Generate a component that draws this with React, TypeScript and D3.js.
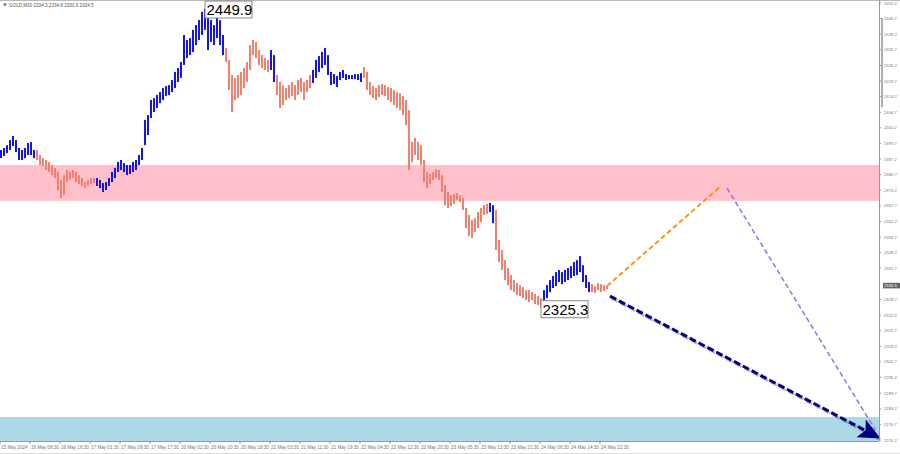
import React from "react";
import * as d3 from "d3";

const title = "GOLD,M30  2334.3 2334.8 2333.6 2334.5";

const highs = [
  2391.0, 2391.8, 2393.0, 2395.1, 2396.8, 2395.1, 2391.8, 2391.0, 2391.8, 2393.9, 2394.3, 2391.0,
  2391.0, 2388.9, 2387.6, 2386.8, 2386.0, 2384.7, 2383.5, 2381.8, 2378.5, 2380.5, 2382.6, 2381.8,
  2382.6, 2381.8, 2380.5, 2379.3, 2377.6, 2378.5, 2379.3, 2379.3,
  2379.3, 2378.5, 2377.2, 2377.6, 2379.3, 2381.8, 2383.5, 2386.0, 2386.8, 2385.5, 2384.7, 2384.7,
  2386.0, 2386.8, 2388.9, 2391.8, 2403.5, 2405.5, 2411.8, 2412.6, 2413.9, 2415.1, 2416.8, 2417.6,
  2418.0, 2420.1, 2423.5, 2425.1, 2427.6, 2438.9, 2436.8, 2437.6, 2441.0, 2443.0, 2445.1, 2448.5,
  2449.9, 2447.2, 2445.1, 2443.0, 2446.8, 2445.1, 2438.9,
  2433.5, 2428.5, 2422.2, 2421.0, 2422.2, 2423.5, 2425.1, 2427.6, 2434.7, 2436.8, 2436.0, 2432.6,
  2430.5, 2429.3, 2428.5,
  2432.6, 2430.5,
  2422.2, 2419.3, 2418.0, 2416.8, 2418.0, 2419.3, 2418.0, 2420.1, 2421.0, 2419.3, 2420.1, 2422.2,
  2424.3, 2428.5, 2430.1, 2431.8, 2433.5, 2430.5, 2423.5, 2422.6, 2421.8, 2423.5, 2424.3, 2422.6,
  2422.2, 2422.2, 2422.6, 2422.6, 2423.0,
  2425.5, 2423.5, 2419.3, 2417.6, 2416.8, 2418.0, 2418.5, 2418.0, 2417.2, 2416.8, 2416.0, 2415.1,
  2414.7, 2413.5, 2411.8, 2407.6, 2394.3, 2396.0, 2394.3, 2393.0, 2386.8, 2381.8, 2381.0, 2381.8,
  2383.0, 2382.6, 2380.5, 2376.4, 2373.5, 2372.2, 2372.6, 2373.0, 2372.2, 2371.0, 2366.8, 2363.9,
  2361.8, 2362.6, 2365.1, 2366.8, 2368.0, 2368.5,
  2368.9, 2368.0,
  2366.0, 2353.5, 2349.3, 2345.1, 2341.8, 2338.9, 2336.8, 2335.5, 2334.7, 2333.9, 2332.6, 2332.6,
  2331.8, 2331.0, 2330.1, 2329.3,
  2332.6, 2334.7, 2336.8, 2338.5, 2340.1, 2341.0, 2340.1, 2341.0, 2341.8, 2342.6, 2344.3, 2345.1,
  2346.8, 2343.0, 2338.9, 2336.0,
  2335.1, 2334.3, 2335.5, 2335.1, 2334.7, 2334.3,
];

const lows = [
  2387.6, 2388.5, 2389.7, 2391.0, 2392.6, 2390.1, 2386.8, 2386.8, 2387.6, 2388.9, 2388.9, 2387.6,
  2386.8, 2384.7, 2384.3, 2382.6, 2381.8, 2380.5, 2379.3, 2374.3, 2371.0, 2372.2, 2377.6, 2378.5,
  2379.3, 2377.6, 2376.8, 2376.0, 2375.1, 2376.0, 2376.8, 2377.2,
  2376.0, 2375.1, 2373.5, 2374.3, 2376.0, 2377.6, 2379.3, 2381.8, 2382.6, 2381.8, 2380.5, 2381.0,
  2381.8, 2382.6, 2384.7, 2386.8, 2393.0, 2397.2, 2404.3, 2406.8, 2408.5, 2410.5, 2411.8, 2413.5,
  2413.9, 2415.1, 2416.8, 2419.3, 2421.0, 2426.4, 2429.3, 2430.5, 2431.8, 2434.7, 2436.8, 2438.9,
  2441.0, 2432.6, 2436.0, 2434.7, 2437.6, 2434.7, 2430.5,
  2427.6, 2416.0, 2406.8, 2411.8, 2412.6, 2413.9, 2416.8, 2419.3, 2424.3, 2430.5, 2429.3, 2426.4,
  2425.1, 2424.3, 2423.5,
  2424.3, 2419.3,
  2413.9, 2408.5, 2409.7, 2411.8, 2412.6, 2413.5, 2411.8, 2413.9, 2415.1, 2411.8, 2415.1, 2416.8,
  2418.9, 2421.0, 2423.5, 2425.1, 2426.4, 2422.2, 2418.0, 2418.5, 2417.2, 2420.1, 2421.0, 2420.1,
  2420.5, 2420.5, 2420.5, 2420.1, 2419.3,
  2421.0, 2416.0, 2413.9, 2412.6, 2411.8, 2413.0, 2413.9, 2413.5, 2411.8, 2411.0, 2409.7, 2408.5,
  2407.6, 2405.5, 2401.4, 2382.6, 2386.0, 2388.9, 2386.8, 2384.7, 2377.6, 2375.1, 2376.8, 2378.5,
  2379.3, 2378.5, 2373.5, 2368.0, 2366.8, 2367.6, 2368.5, 2370.1, 2369.3, 2366.0, 2358.5, 2355.1,
  2354.3, 2356.8, 2358.5, 2361.0, 2363.9, 2364.3,
  2365.1, 2360.5,
  2349.3, 2344.3, 2341.0, 2336.8, 2334.7, 2332.6, 2331.8, 2330.5, 2330.1, 2329.3, 2328.5, 2327.6,
  2328.5, 2326.8, 2326.4, 2325.3,
  2326.8, 2329.3, 2331.8, 2333.5, 2334.3, 2336.0, 2335.1, 2336.0, 2336.8, 2337.6, 2338.5, 2338.9,
  2340.1, 2336.0, 2333.5, 2331.8,
  2331.8, 2331.4, 2332.6, 2331.8, 2332.2, 2333.0,
];

// last bar index of each wave, alternating up / down starting with up
const waveEnds = [11, 31, 74, 89, 91, 103, 120, 162, 164, 180, 196, 202];

const priceTicks = [
  2452.2, 2445.7, 2439.2, 2432.7, 2426.2, 2419.7, 2413.2, 2406.7, 2400.2, 2393.7, 2387.2,
  2380.7, 2374.2, 2367.7, 2361.2, 2354.7, 2348.2, 2341.7, 2328.7, 2322.2, 2315.7, 2309.2,
  2302.7, 2296.2, 2289.7, 2283.2, 2276.7, 2270.2,
];
const currentPrice = 2334.5;

const timeLabels = [
  "15 May 2024", "16 May 08:30", "16 May 16:30", "17 May 01:30", "17 May 09:30", "17 May 17:30",
  "20 May 02:30", "20 May 10:30", "20 May 18:30", "21 May 03:30", "21 May 11:30", "21 May 19:30",
  "22 May 04:30", "22 May 12:30", "22 May 20:30", "23 May 05:30", "23 May 13:30", "23 May 21:30",
  "24 May 06:30", "24 May 14:30", "24 May 22:30",
];
const barsPerLabel = 10;

const resistanceZone = [2369.8, 2384.7];
const supportZone = [2269.5, 2279.8];

const extremes = [
  { index: 68, price: 2449.9, kind: "high" },
  { index: 180, price: 2325.3, kind: "low" },
];

const orangeProjection = [[202, 2334.3], [240, 2376.0]];
const purpleProjection = [[242, 2375.1], [291.5, 2274.3]];
const navyProjection = [[203, 2330.1], [292.3, 2271.4]];

const W = 900;
const H = 454;
const plotRight = 879;
const plotBottom = 441;

export default function App() {
  const x = d3.scaleLinear().domain([0, 292.33]).range([1, 878]);
  const y = d3.scaleLinear().domain([2270.2, 2452.2]).range([440, 3]);

  const colorOf = (i: number) => {
    const seg = waveEnds.findIndex((e) => i <= e);
    return seg % 2 === 0 ? "#1414ee" : "#f47f6c";
  };

  const line = d3.line<number[]>().x((d) => x(d[0])).y((d) => y(d[1]));

  const font = "'Liberation Sans', Arial, sans-serif";

  return (
    <svg
      width={W}
      height={H}
      style={{ position: "fixed", left: 0, top: 0, background: "#fff" }}
      fontFamily={font}
    >
      <defs>
        <marker
          id="arrowNavy"
          markerUnits="userSpaceOnUse"
          markerWidth={24}
          markerHeight={20}
          refX={19}
          refY={10}
          orient="auto"
        >
          <path d="M0,0 L22,10 L0,20 L5,10 Z" fill="#000080" />
        </marker>
      </defs>
      {/* frame */}
      <line x1={0} x2={W} y1={0.5} y2={0.5} stroke="#bbb" />
      {/* zones */}
      <rect x={0} width={plotRight} y={y(resistanceZone[1])} height={y(resistanceZone[0]) - y(resistanceZone[1])} fill="#ffc0cb" />
      <rect x={0} width={plotRight} y={y(supportZone[1])} height={plotBottom - y(supportZone[1])} fill="#add8e6" />

      {/* bars */}
      {highs.map((h, i) => (
        <line
          key={i}
          x1={x(i)}
          x2={x(i)}
          y1={y(h)}
          y2={y(lows[i])}
          stroke={colorOf(i)}
          strokeWidth={2}
        />
      ))}

      {/* projections */}
      <path d={line(orangeProjection as any) || ""} stroke="#ff8c00" strokeWidth={1.8} strokeDasharray="5,3" fill="none" />
      <path d={line(purpleProjection as any) || ""} stroke="#9b6fe0" strokeWidth={1.5} strokeDasharray="5,3" fill="none" />
      <path
        d={line(navyProjection as any) || ""}
        stroke="rgba(0,0,0,0.25)"
        strokeWidth={3}
        strokeDasharray="7,3"
        fill="none"
        transform="translate(1.5,2)"
      />
      <path
        d={line(navyProjection as any) || ""}
        stroke="#000080"
        strokeWidth={3}
        strokeDasharray="7,3"
        fill="none"
        markerEnd="url(#arrowNavy)"
      />

      {/* extreme labels */}
      {extremes.map((e) => {
        const bx = x(e.index);
        const by = e.kind === "high" ? Math.max(1, y(e.price) - 8) : y(e.price) - 7;
        return (
          <g key={e.index}>
            <rect x={bx} y={by} width={47} height={17} fill="#fff" stroke="#888" strokeWidth={1} />
            <text x={bx + 1.5} y={by + 14} fontSize={15} fill="#000">
              {e.price.toFixed(1)}
            </text>
          </g>
        );
      })}

      {/* title */}
      <path d="M3,3.5 L7,3.5 L5,6.5 Z" fill="#666" />
      <text x={9} y={6.5} fontSize={4.6} fill="#555">
        {title}
      </text>

      {/* right axis */}
      <line x1={plotRight + 0.5} x2={plotRight + 0.5} y1={0} y2={plotBottom} stroke="#999" />
      <line x1={882} x2={882} y1={18} y2={107} stroke="#777" strokeWidth={1.2} />
      {priceTicks.map((p) => (
        <g key={p}>
          <line x1={plotRight} x2={plotRight + 2} y1={y(p)} y2={y(p)} stroke="#999" />
          <text x={884} y={y(p) + 1.5} fontSize={4.2} fill="#777">
            {p.toFixed(1)}
          </text>
        </g>
      ))}
      <rect x={883} y={y(currentPrice) - 2.8} width={17} height={5.6} fill="#666" />
      <text x={884} y={y(currentPrice) + 1.5} fontSize={4.2} fill="#fff">
        {currentPrice.toFixed(1)}
      </text>

      {/* bottom axis */}
      <line x1={0} x2={plotRight} y1={plotBottom + 0.5} y2={plotBottom + 0.5} stroke="#999" />
      {timeLabels.map((t, k) => {
        const tx = x(k * barsPerLabel) - 1;
        return (
          <g key={t}>
            <line x1={tx} x2={tx} y1={plotBottom} y2={plotBottom + 3} stroke="#999" />
            <text x={tx + 1} y={449} fontSize={4.6} fill="#777">
              {t}
            </text>
          </g>
        );
      })}
      <line x1={0} x2={W} y1={453.5} y2={453.5} stroke="#ddd" />
    </svg>
  );
}
